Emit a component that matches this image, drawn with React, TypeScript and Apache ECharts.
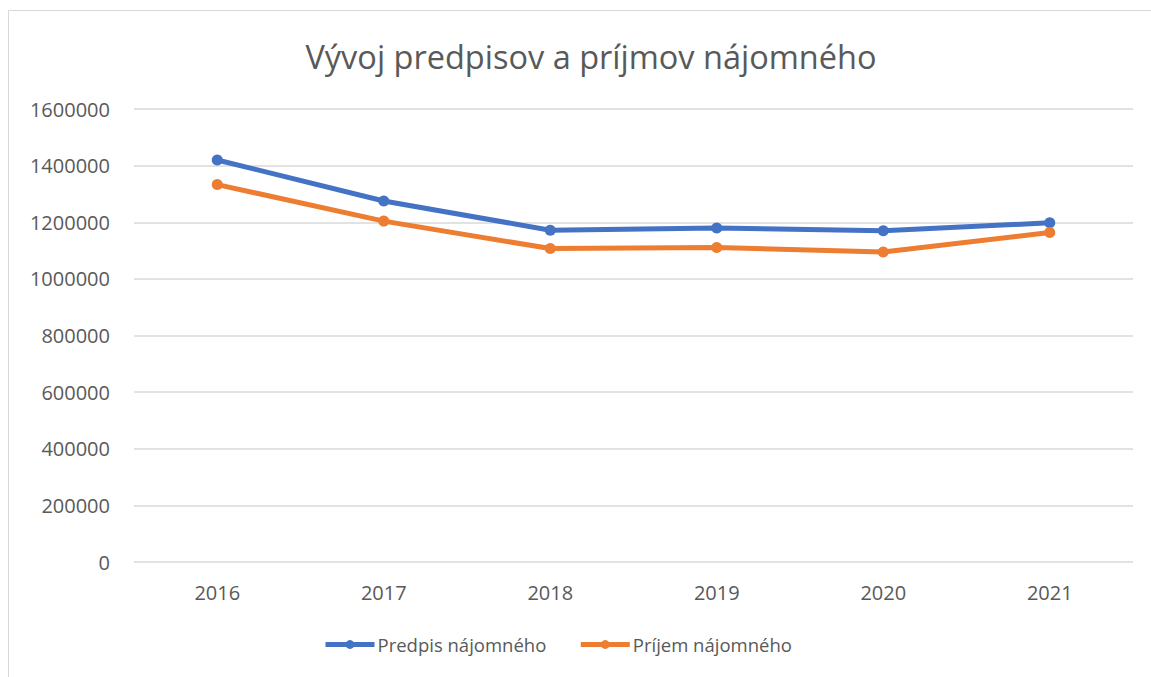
import React, { useEffect, useRef } from "react";
import * as echarts from "echarts";

const years = ["2016", "2017", "2018", "2019", "2020", "2021"];
const predpis = [1420000, 1275000, 1172000, 1180000, 1170000, 1198000];
const prijem = [1333000, 1204000, 1107000, 1111000, 1095000, 1164000];
const yTicks = { min: 0, max: 1600000, interval: 200000 };

const FONT = "'Open Sans', sans-serif";
const TXT = "#595959";

export default function App() {
  const ref = useRef<HTMLDivElement>(null);
  useEffect(() => {
    if (!ref.current) return;
    const chart = echarts.init(ref.current, undefined, { renderer: "svg" });
    chart.setOption({
      animation: false,
      backgroundColor: "#ffffff",
      textStyle: { fontFamily: FONT, color: TXT },
      title: {
        text: "Vývoj predpisov a príjmov nájomného",
        left: 586,
        top: 35,
        textAlign: "center",
        textStyle: { fontFamily: FONT, fontSize: 32.5, fontWeight: "normal", color: TXT },
      },
      graphic: [
        {
          type: "rect",
          shape: { x: 8.5, y: 10.5, width: 1200, height: 700 },
          style: { fill: "none", stroke: "#d9d9d9", lineWidth: 1 },
          silent: true,
        },
      ],
      legend: {
        bottom: 18,
        left: 318,
        itemWidth: 49,
        itemHeight: 11,
        itemGap: 32,
        lineStyle: { width: 5 },
        textStyle: { fontFamily: FONT, fontSize: 18.5, color: TXT, padding: [0, 0, 0, -2] },
        data: ["Predpis nájomného", "Príjem nájomného"],
      },
      grid: { left: 134, right: 18, top: 109, bottom: 115, containLabel: false },
      xAxis: {
        type: "category",
        data: years,
        boundaryGap: true,
        axisLine: { show: false },
        axisTick: { show: false },
        axisLabel: { fontFamily: FONT, fontSize: 20, color: TXT, margin: 20 },
      },
      yAxis: {
        type: "value",
        min: yTicks.min,
        max: yTicks.max,
        interval: yTicks.interval,
        axisLine: { show: false },
        axisTick: { show: false },
        splitLine: { lineStyle: { color: "#d9d9d9", width: 1.5 } },
        axisLabel: {
          fontFamily: FONT,
          fontSize: 20,
          color: TXT,
          margin: 24,
          formatter: (v: number) => String(v),
        },
      },
      series: [
        {
          name: "Predpis nájomného",
          type: "line",
          data: predpis,
          color: "#4472c4",
          symbol: "circle",
          symbolSize: 11,
          lineStyle: { width: 5, color: "#4472c4" },
          itemStyle: { color: "#4472c4" },
        },
        {
          name: "Príjem nájomného",
          type: "line",
          data: prijem,
          color: "#ed7d31",
          symbol: "circle",
          symbolSize: 11,
          lineStyle: { width: 5, color: "#ed7d31" },
          itemStyle: { color: "#ed7d31" },
        },
      ],
    });
    return () => chart.dispose();
  }, []);
  return (
    <div
      ref={ref}
      style={{ position: "absolute", left: 0, top: 0, width: 1151, height: 677 }}
    />
  );
}
